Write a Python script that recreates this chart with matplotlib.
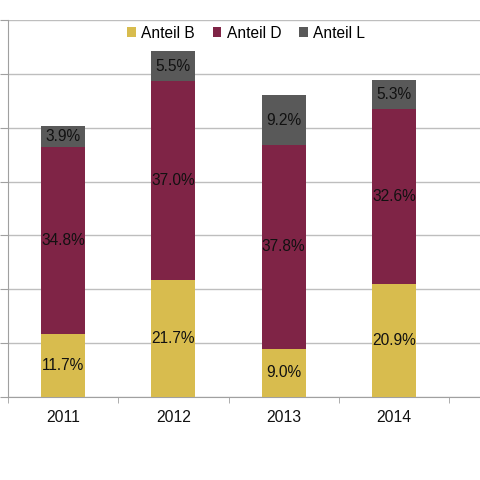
import numpy as np
import matplotlib.pyplot as plt

plt.rcParams['font.family'] = ['Liberation Sans', 'DejaVu Sans']

years = ['2011', '2012', '2013', '2014']
anteil_b = [11.7, 21.7, 9.0, 20.9]
anteil_d = [34.8, 37.0, 37.8, 32.6]
anteil_l = [3.9, 5.5, 9.2, 5.3]

series = [('Anteil B', anteil_b, '#D8BC4E'),
          ('Anteil D', anteil_d, '#7F2446'),
          ('Anteil L', anteil_l, '#595959')]

fig = plt.figure(figsize=(4.8, 4.8), dpi=100)
ax = fig.add_axes([8 / 480, 1 - 397 / 480, 1 - 8 / 480, 377 / 480])

x = np.arange(len(years))
bottom = np.zeros(len(years))
for name, vals, col in series:
    vals = np.array(vals)
    ax.bar(x, vals, 0.4, bottom=bottom, color=col, label=name, zorder=3)
    for xi, b, v in zip(x, bottom, vals):
        ax.text(xi, b + v / 2, f'{v:.1f}%', ha='center', va='center',
                fontsize=11.2, color='#111111', zorder=4)
    bottom += vals

ax.set_ylim(0, 70)
ax.set_xlim(-0.5, 3.5 + 31 / 110.3)
ax.set_yticks(np.arange(0, 71, 10))
ax.set_yticklabels([])
ax.yaxis.grid(True, color='#BEBEBE', linewidth=1, zorder=0)
ax.tick_params(axis='y', length=6, color='#A0A0A0')

ax.set_xticks(x)
ax.set_xticklabels(years, fontsize=11.3, color='#111111')
ax.set_xticks(np.arange(-0.5, 4, 1), minor=True)
ax.tick_params(axis='x', which='major', length=0, pad=9)
ax.tick_params(axis='x', which='minor', length=4, color='#A0A0A0')

for s in ['top', 'right']:
    ax.spines[s].set_visible(False)
for s in ['left', 'bottom']:
    ax.spines[s].set_color('#A0A0A0')

fig.legend(loc='center', bbox_to_anchor=(246 / 480, 1 - 33 / 480), ncol=3,
           frameon=False, fontsize=11.2, handlelength=0.55, handleheight=0.55,
           handletextpad=0.35, columnspacing=1.15)

fig.savefig('out.png', dpi=100)
